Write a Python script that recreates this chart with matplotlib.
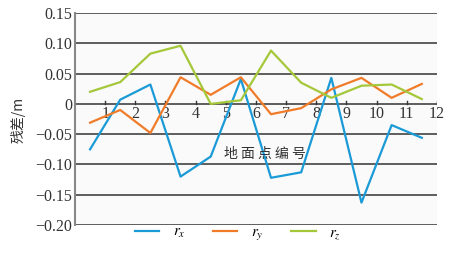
import numpy as np
import matplotlib.pyplot as plt

# point numbers sit between integer ticks
pts = np.arange(12) + 0.5
rx = [-0.075, 0.007, 0.032, -0.120, -0.087, 0.041, -0.122, -0.113, 0.043, -0.163, -0.035, -0.056]
ry = [-0.031, -0.010, -0.048, 0.044, 0.015, 0.044, -0.017, -0.007, 0.024, 0.043, 0.010, 0.033]
rz = [0.020, 0.036, 0.083, 0.096, 0.000, 0.006, 0.088, 0.035, 0.010, 0.030, 0.032, 0.008]
yticks = [-0.20, -0.15, -0.10, -0.05, 0, 0.05, 0.10, 0.15]
ylabels = ['\u22120.20', '\u22120.15', '\u22120.10', '\u22120.05', '0', '0.05', '0.10', '0.15']

plt.rcParams['font.family'] = ['Liberation Serif', 'Noto Sans CJK SC']
plt.rcParams['mathtext.fontset'] = 'stix'

fig = plt.figure(figsize=(4.49, 2.56), dpi=100)
fig.patch.set_facecolor('white')
ax = fig.add_axes([0.167, 0.121, 0.806, 0.828])
ax.set_facecolor('#fafafa')

for y in yticks:
    ax.axhline(y, color='#333333', lw=1.1, zorder=1)

l1, = ax.plot(pts, rx, color='#1a9ad6', lw=1.6, zorder=3)
l2, = ax.plot(pts, ry, color='#f07c2a', lw=1.6, zorder=3)
l3, = ax.plot(pts, rz, color='#a5c83a', lw=1.6, zorder=3)

ax.set_xlim(0, 12)
ax.set_ylim(-0.20, 0.15)
ax.set_yticks(yticks)
ax.set_yticklabels(ylabels, fontsize=11.5, color='#333333')
ax.tick_params(axis='y', length=0, pad=2)

for s in ['top', 'right', 'bottom']:
    ax.spines[s].set_visible(False)
ax.spines['left'].set_color('#888888')
ax.spines['left'].set_linewidth(1.5)

ax.set_xticks([])
for i in range(1, 13):
    ax.plot([i, i], [0, 0.004], color='#333333', lw=1, zorder=2)
    ax.text(i, -0.004, str(i), ha='center', va='top', fontsize=11.5, color='#333333', zorder=2)

ax.text(6.3, -0.083, '地 面 点 编 号', ha='center', va='center', fontsize=10,
        family=['Noto Sans CJK SC'], color='#333333')
fig.text(0.04, 0.53, '残差/m', rotation=90, ha='center', va='center', fontsize=10,
         family=['Noto Sans CJK SC', 'Liberation Serif'], color='#333333')

fig.legend([l1, l2, l3], ['$r_x$', '$r_y$', '$r_z$'], loc='lower center',
           bbox_to_anchor=(0.53, 0.0), ncol=3, frameon=False, fontsize=11,
           handlelength=1.6, handletextpad=0.9, columnspacing=1.8)

fig.savefig('out.png', dpi=100)
